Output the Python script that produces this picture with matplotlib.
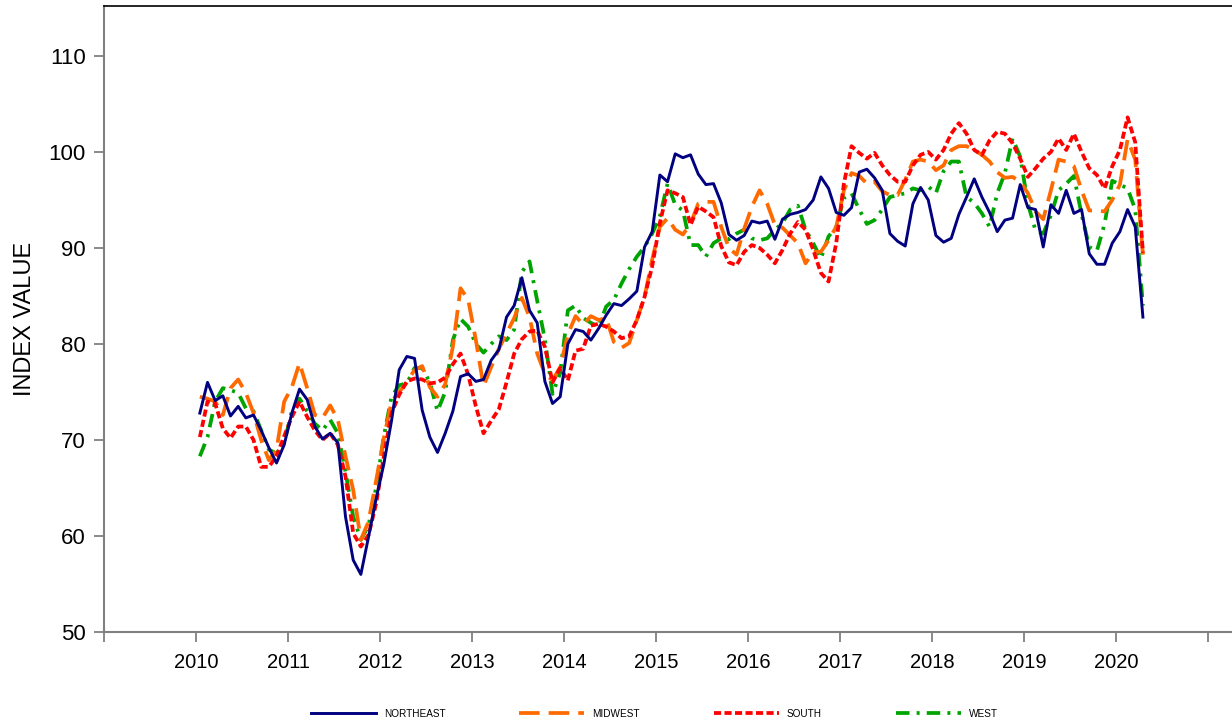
import numpy as np
import matplotlib.pyplot as plt

plt.rcParams['font.family'] = ['Liberation Sans', 'DejaVu Sans']

# monthly index values, Jan 2010 - Apr 2020
northeast = [72.8, 76.0, 74.1, 74.6, 72.5, 73.5, 72.3, 72.6, 71.0, 69.2, 67.6, 69.5,
             72.8, 75.3, 74.2, 71.4, 70.1, 70.7, 69.7, 62.0, 57.5, 56.0, 59.9, 63.9,
             67.5, 72.0, 77.3, 78.7, 78.5, 73.1, 70.3, 68.7, 70.7, 73.0, 76.6, 76.9,
             76.1, 76.3, 78.3, 79.4, 82.8, 84.0, 86.9, 83.5, 82.2, 76.1, 73.8, 74.5,
             80.0, 81.5, 81.3, 80.4, 81.6, 83.0, 84.2, 84.0, 84.7, 85.5, 90.1, 91.7,
             97.6, 96.9, 99.8, 99.4, 99.7, 97.7, 96.6, 96.7, 94.7, 91.4, 90.8, 91.3,
             92.8, 92.6, 92.8, 90.9, 93.0, 93.5, 93.7, 94.0, 95.0, 97.4, 96.2, 93.7,
             93.4, 94.2, 97.9, 98.2, 97.3, 96.0, 91.5, 90.7, 90.2, 94.6, 96.3, 95.0,
             91.3, 90.6, 91.0, 93.5, 95.3, 97.2, 95.3, 93.7, 91.7, 92.9, 93.1, 96.6,
             94.2, 94.0, 90.1, 94.5, 93.6, 96.0, 93.6, 94.0, 89.4, 88.3, 88.3, 90.5,
             91.7, 94.0, 92.2, 82.8]
midwest = [74.5, 74.3, 74.0, 72.6, 75.4, 76.3, 74.9, 72.8, 70.0, 67.9, 69.0, 74.0,
           75.5, 78.0, 75.4, 72.6, 72.3, 73.6, 72.1, 68.3, 64.8, 59.6, 61.5, 65.8,
           70.2, 74.0, 75.0, 76.0, 77.3, 77.7, 75.5, 74.5, 75.8, 79.7, 85.8, 84.6,
           80.4, 75.6, 77.6, 79.5, 81.1, 82.7, 84.8, 82.8, 79.0, 76.9, 76.2, 77.6,
           81.0, 82.9, 82.0, 82.9, 82.5, 82.7, 80.2, 79.6, 80.1, 82.5, 84.9, 88.8,
           92.2, 93.1, 91.9, 91.4, 92.5, 94.6, 94.8, 94.8, 92.2, 90.0, 89.3, 92.0,
           94.3, 96.0, 94.6, 92.4, 92.1, 91.3, 90.5, 88.4, 89.6, 89.6, 90.8, 92.2,
           96.0, 97.8, 97.5, 96.7, 96.9, 95.9, 95.5, 95.5, 97.1, 99.0, 99.2, 99.0,
           98.1, 98.6, 100.2, 100.6, 100.6, 100.2, 99.7, 99.0, 97.9, 97.3, 97.4, 96.9,
           95.7, 93.8, 93.0, 96.0, 99.2, 99.0, 98.5, 96.0, 93.9, 93.9, 93.8, 95.0,
           96.6, 101.3, 99.2, 89.3]
south = [70.3, 74.0, 73.8, 71.2, 70.2, 71.4, 71.4, 70.0, 67.2, 67.2, 68.3, 70.4,
         72.4, 74.0, 72.4, 71.0, 70.0, 70.7, 69.5, 66.2, 60.3, 58.9, 60.1, 63.4,
         68.3, 72.8, 74.7, 76.1, 76.4, 76.3, 75.9, 76.0, 76.5, 77.9, 79.0, 76.8,
         73.5, 70.7, 72.0, 73.2, 76.0, 79.0, 80.5, 81.3, 81.4, 79.7, 76.0, 77.5,
         76.2, 79.3, 79.5, 81.9, 82.1, 81.8, 81.3, 80.6, 80.8, 82.5, 84.9, 88.1,
         92.6, 96.0, 95.7, 95.3, 92.4, 94.3, 93.8, 93.2, 90.2, 88.5, 88.2, 89.6,
         90.3, 90.0, 89.3, 88.4, 89.8, 91.5, 92.7, 91.9, 89.8, 87.4, 86.5, 90.5,
         96.7, 100.6, 99.9, 99.3, 99.9, 98.6, 97.6, 96.9, 96.9, 98.6, 99.7, 100.0,
         99.2, 100.2, 101.9, 103.0, 101.9, 100.2, 99.7, 101.2, 102.1, 101.9, 100.9, 99.3,
         97.4, 98.3, 99.3, 100.0, 101.4, 100.2, 101.9, 100.0, 98.3, 97.6, 96.2, 98.5,
         100.2, 103.6, 101.0, 89.5]
west = [68.3, 70.3, 74.0, 75.4, 75.2, 74.9, 73.3, 73.0, 71.0, 69.0, 68.6, 69.7,
        73.0, 74.3, 73.0, 71.7, 71.0, 72.1, 70.7, 66.7, 62.0, 59.6, 61.1, 65.1,
        70.4, 74.5, 75.7, 75.9, 77.5, 77.5, 76.0, 73.0, 75.0, 80.4, 82.6, 81.8,
        80.0, 79.1, 80.0, 80.8, 80.4, 81.5, 87.5, 88.6, 84.5, 80.5, 74.8, 77.0,
        83.5, 84.0, 82.7, 82.2, 81.8, 83.9, 84.6, 86.3, 87.8, 89.1, 90.1, 91.5,
        93.3, 96.7, 94.5, 93.9, 90.3, 90.3, 89.1, 90.5, 91.0, 90.9, 91.5, 91.9,
        91.0, 90.8, 91.0, 91.9, 92.6, 94.0, 94.4, 91.9, 90.5, 88.9, 91.2, 92.2,
        95.2, 95.7, 94.0, 92.5, 92.9, 94.0, 95.3, 95.5, 95.7, 96.2, 96.0, 96.4,
        95.7, 98.0, 99.0, 99.0, 95.3, 94.7, 93.6, 92.2, 95.7, 97.8, 101.4, 99.5,
        94.6, 91.8, 91.5, 93.4, 96.0, 96.7, 97.5, 93.5, 90.1, 89.7, 92.5, 97.0,
        96.6, 96.2, 94.0, 84.0]
years = list(range(2009, 2022))

x = 2010 + (np.arange(len(northeast)) + 0.5) / 12

fig = plt.figure(figsize=(12.32, 7.25), dpi=100)
ax = fig.add_axes([104/1232, 93/725, 1128/1232, 626/725])

ax.plot(x, northeast, color='#000080', lw=2.1, label='NORTHEAST', zorder=5)
ax.plot(x, midwest, color='#FF6A00', lw=2.7, dashes=(5.5, 2.4), label='MIDWEST', zorder=3)
ax.plot(x, south, color='#FF0000', lw=2.7, dashes=(1.9, 0.9), label='SOUTH', zorder=4)
ax.plot(x, west, color='#00A400', lw=2.7, dashes=(3.6, 1.9, 0.8, 1.9), label='WEST', zorder=2)

ax.set_xlim(2009, 2021.26)
ax.set_ylim(50, 115.2)
ax.set_xticks(years)
ax.set_xticklabels(['' if y in (2009, 2021) else str(y) for y in years], fontsize=14.5)
ax.set_yticks(range(50, 111, 10))
ax.tick_params(axis='y', labelsize=16, length=7, width=1.3, color='#808080', direction='out', pad=6)
ax.tick_params(axis='x', length=7, width=1.3, color='#808080', direction='out', pad=8)
ax.set_ylabel('INDEX VALUE', fontsize=17, labelpad=9)

for s in ('left', 'bottom'):
    ax.spines[s].set_color('#808080')
    ax.spines[s].set_linewidth(1.5)
ax.spines['top'].set_color('black')
ax.spines['top'].set_linewidth(1.2)
ax.spines['right'].set_visible(False)

fig.legend(loc='lower center', bbox_to_anchor=(0.531, -0.004), ncol=4, frameon=False,
           fontsize=7.2, handlelength=6.5, handletextpad=0.8, columnspacing=7.4)

fig.savefig('out.png', dpi=100)
